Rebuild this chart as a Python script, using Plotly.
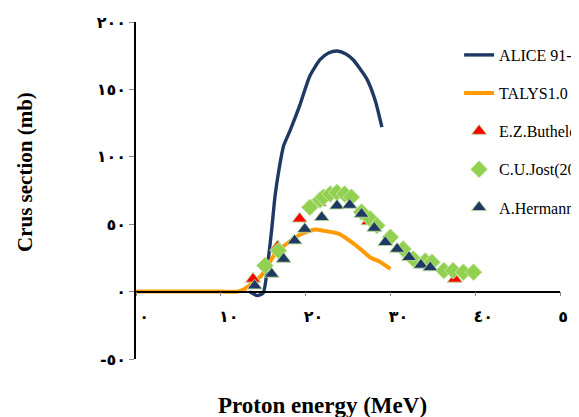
import plotly.graph_objects as go

# ---- data ----
alice_x = [13.4, 14.3, 15.0, 15.6, 16.0, 16.4, 16.9, 17.4, 18.2, 19.3, 20.5, 21.7, 22.7, 23.7, 24.7, 25.6, 27.2, 28.2, 29.0]
alice_y = [0, -3, -1, 24, 46, 71, 92, 108, 120, 138, 160, 172, 177, 178.5, 176.5, 172, 158, 142, 122]

talys_x = [0, 5, 10, 12.0, 12.8, 14.8, 16.4, 18.0, 19.5, 21.1, 22.1, 24.0, 26.0, 27.6, 28.8, 30.0]
talys_y = [0, 0, 0, 0, 2, 12, 28, 36.6, 42.7, 46, 45.2, 42.7, 34, 25.5, 22, 16.8]

buth_x = [13.8, 16.7, 19.3, 21.6, 27.4, 37.6]
buth_y = [9.4, 33.5, 54, 66, 52, 9.4]

jost_x = [15.2, 16.8, 20.5, 21.7, 22.1, 22.9, 23.7, 24.6, 25.4, 26.6, 27.6, 28.4, 30.0, 31.5, 32.7, 34.1, 34.9, 36.3, 37.4, 38.6, 39.8]
jost_y = [19.3, 30.4, 62.5, 68, 70, 72.4, 73.6, 72.4, 70, 59, 54, 49, 40.3, 31.6, 24.2, 22.7, 21.8, 15.6, 15.6, 14.4, 14.4]

herm_x = [14.0, 16.0, 17.4, 18.7, 19.9, 21.9, 23.7, 25.2, 26.6, 28.1, 29.4, 30.8, 32.2, 33.6, 34.7]
herm_y = [4.4, 13.1, 24.2, 37.8, 46.4, 55.1, 63.7, 64.2, 57.6, 47.2, 36.6, 31.6, 25.5, 19.8, 17.9]

x_ticks = [0, 10, 20, 30, 40, 50]
x_ticktext = ["٠", "١٠", "٢٠", "٣٠", "٤٠", "٥٠"]
y_ticks = [-50, 0, 50, 100, 150, 200]
y_ticktext = ["-٥٠", "٠", "٥٠", "١٠٠", "١٥٠", "٢٠٠"]

names = ["ALICE 91-ASH", "TALYS1.0", "E.Z.Buthelezi(2006)", "C.U.Jost(2013)", "A.Hermanne(2000)"]

NAVY = "#1F3864"
ORANGE = "#FF9A00"
RED = "#FF0000"
GREEN = "#92D050"
EDGE = "rgba(180,215,150,0.95)"

fig = go.Figure()
fig.add_trace(go.Scatter(x=alice_x, y=alice_y, mode="lines", name=names[0],
                         line=dict(color=NAVY, width=3.4, shape="spline", smoothing=0.6),
                         legendgroup="a"))
fig.add_trace(go.Scatter(x=talys_x, y=talys_y, mode="lines", name=names[1],
                         line=dict(color=ORANGE, width=4, shape="spline", smoothing=0.6),
                         legendgroup="b"))
fig.add_trace(go.Scatter(x=buth_x, y=buth_y, mode="markers", name=names[2],
                         marker=dict(symbol="triangle-up", size=13, color=RED,
                                     line=dict(color=EDGE, width=1)),
                         legendgroup="c"))
fig.add_trace(go.Scatter(x=jost_x, y=jost_y, mode="markers", name=names[3],
                         marker=dict(symbol="diamond", size=13, color=GREEN,
                                     line=dict(color="rgba(200,230,170,0.9)", width=1)),
                         legendgroup="d"))
fig.add_trace(go.Scatter(x=herm_x, y=herm_y, mode="markers", name=names[4],
                         marker=dict(symbol="triangle-up", size=13, color=NAVY,
                                     line=dict(color=EDGE, width=1)),
                         legendgroup="e"))

tick_font = dict(family="DejaVu Sans", size=16, color="black", weight="bold")

fig.update_layout(
    width=579, height=417,
    margin=dict(l=128, r=27, t=14, b=66, autoexpand=False),
    paper_bgcolor="white", plot_bgcolor="white",
    showlegend=True,
    legend=dict(x=0.762, y=0.9525, xanchor="left", yanchor="top",
                font=dict(family="Liberation Serif", size=16, color="black"),
                tracegroupgap=14.3, bgcolor="rgba(0,0,0,0)", itemwidth=30),
    xaxis=dict(range=[0, 50], tickvals=x_ticks, ticktext=x_ticktext,
               anchor="free", position=0.2, showline=True, linecolor="black",
               linewidth=1.5, ticks="outside", ticklen=4, tickcolor="#888",
               showgrid=False, zeroline=False, tickfont=tick_font,
               ticklabelstandoff=6, ticklabelshift=8),
    yaxis=dict(range=[-50, 200], tickvals=y_ticks, ticktext=y_ticktext,
               showline=True, linecolor="black", linewidth=1.5,
               ticks="outside", ticklen=5, tickcolor="#888",
               showgrid=False, zeroline=False, tickfont=tick_font,
               ticklabelstandoff=0),
    annotations=[
        dict(text="<b>Crus section (mb)</b>", xref="paper", yref="paper",
             x=(17 - 128) / 424, y=1 - (164 - 14) / 337, xanchor="center", yanchor="middle",
             textangle=-90, showarrow=False,
             font=dict(family="Liberation Serif", size=21, color="black")),
        dict(text="<b>Proton energy (MeV)</b>", xref="paper", yref="paper",
             x=(314 - 128) / 424, y=-(397 - 351) / 337, xanchor="center", yanchor="middle",
             showarrow=False, font=dict(family="Liberation Serif", size=23, color="black")),
    ],
)

fig.write_html("out.html")
